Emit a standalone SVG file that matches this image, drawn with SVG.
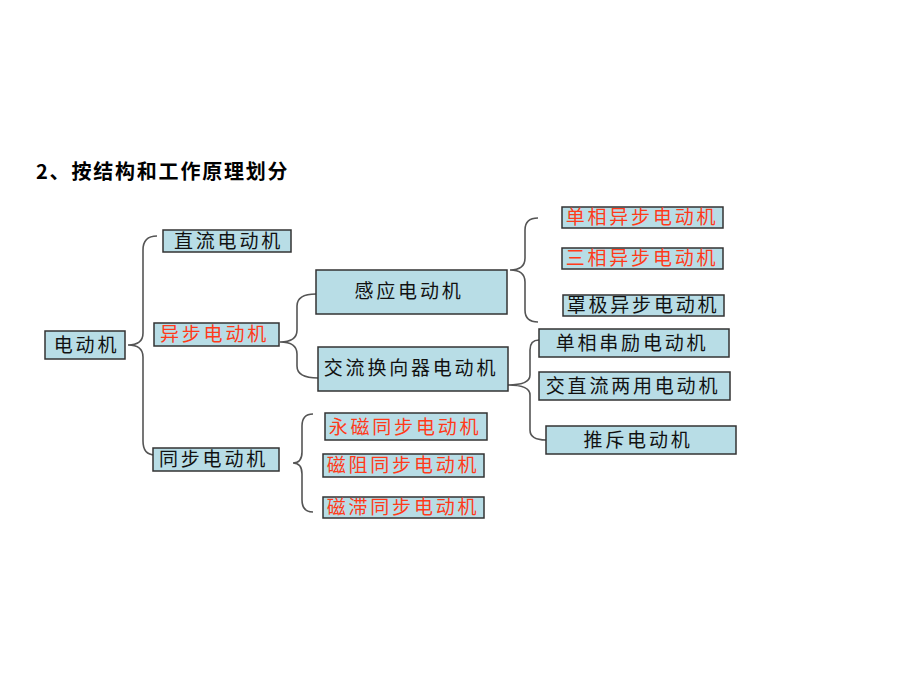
<svg xmlns="http://www.w3.org/2000/svg" width="920" height="690" viewBox="0 0 920 690">
<style>
.bx{fill:#b8dde6;stroke:#333;stroke-width:1.5}
.t{font-family:"Noto Sans CJK SC","Noto Sans CJK TC",sans-serif;font-size:19px;fill:#111;text-anchor:middle;letter-spacing:2.8px}
.r{fill:#ff3a1a}
.br{fill:none;stroke:#555;stroke-width:1.6}
.ti{font-family:"Noto Sans CJK SC",sans-serif;font-size:20px;font-weight:bold;fill:#000;letter-spacing:1.8px}
</style>
<rect width="920" height="690" fill="#fff"/>
<text class="ti" x="36" y="179">2、按结构和工作原理划分</text>
<g id="connectors">
<path class="br" d="M157,236 Q143,236 143,250 L143,333 Q143,345 128,345 Q143,345 143,357 L143,441 Q143,455 155,455"/>
<path class="br" d="M316,294 Q297,294 297,306 L297,330 Q297,342 280,342 Q297,342 297,354 L297,366 Q297,378 318,378"/>
<path class="br" d="M538,218 Q525,218 525,230 L525,258 Q525,270 510,270 Q525,270 525,282 L525,310 Q525,322 538,322"/>
<path class="br" d="M539,340 Q530,340 530,350 L530,375 Q530,385 508,385 Q530,385 530,395 L530,430 Q530,440 546,440"/>
<path class="br" d="M313,414 Q302,414 302,426 L302,452 Q302,463 293,463 Q302,463 302,474 L302,500 Q302,512 313,512"/>
</g>
<g id="n-motor"><rect class="bx" x="45" y="331" width="80" height="28"/><text class="t" x="86.5" y="352">电动机</text></g>
<g id="n-dc"><rect class="bx" x="163" y="230" width="128" height="22"/><text class="t" x="228.5" y="248">直流电动机</text></g>
<g id="n-async"><rect class="bx" x="154" y="323" width="125" height="23"/><text class="t r" x="214.5" y="341">异步电动机</text></g>
<g id="n-sync"><rect class="bx" x="153" y="448" width="126" height="23"/><text class="t" x="213.5" y="466">同步电动机</text></g>
<g id="n-induction"><rect class="bx" x="316" y="270" width="191" height="44"/><text class="t" x="409" y="298">感应电动机</text></g>
<g id="n-commutator"><rect class="bx" x="318" y="347" width="190" height="44"/><text class="t" x="411" y="375">交流换向器电动机</text></g>
<g id="n-1ph-async"><rect class="bx" x="562" y="207" width="161" height="21"/><text class="t r" x="642" y="224">单相异步电动机</text></g>
<g id="n-3ph-async"><rect class="bx" x="562" y="248" width="161" height="21"/><text class="t r" x="642" y="265">三相异步电动机</text></g>
<g id="n-shaded"><rect class="bx" x="563" y="295" width="161" height="21"/><text class="t" x="643" y="312">罩极异步电动机</text></g>
<g id="n-series"><rect class="bx" x="539" y="329" width="190" height="28"/><text class="t" x="632" y="350">单相串励电动机</text></g>
<g id="n-universal"><rect class="bx" x="539" y="372" width="191" height="28"/><text class="t" x="633" y="393">交直流两用电动机</text></g>
<g id="n-repulsion"><rect class="bx" x="546" y="426" width="190" height="28"/><text class="t" x="638" y="447">推斥电动机</text></g>
<g id="n-pm"><rect class="bx" x="325" y="413" width="162" height="27"/><text class="t r" x="405" y="434">永磁同步电动机</text></g>
<g id="n-reluct"><rect class="bx" x="323" y="454" width="161" height="23"/><text class="t r" x="403" y="472">磁阻同步电动机</text></g>
<g id="n-hyst"><rect class="bx" x="323" y="497" width="161" height="21"/><text class="t r" x="403" y="514">磁滞同步电动机</text></g>
</svg>
